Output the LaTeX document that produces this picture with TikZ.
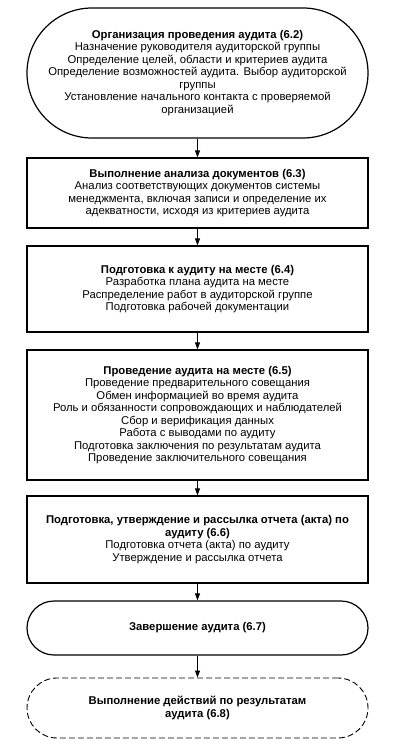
\documentclass[tikz,border=0pt]{standalone}
\usepackage{fontspec}
\setmainfont{Liberation Sans}
\usetikzlibrary{arrows.meta}
\begin{document}
\begin{tikzpicture}[x=1pt,y=1pt,
  every node/.style={font=\fontsize{11.3}{12.5}\selectfont, align=center, inner sep=0pt},
  box/.style={draw, line width=1.2pt, minimum width=341pt},
  flow/.style={line width=0.9pt, -{Triangle[length=7pt,width=5pt]}}]
\useasboundingbox (0,0) rectangle (401,-750);
\node[box, rounded corners=65pt, minimum height=130pt] (n1) at (197.5,-73)
 {\textbf{Организация проведения аудита (6.2)}\\
  Назначение руководителя аудиторской группы\\
  Определение целей, области и критериев аудита\\
  Определение возможностей аудита. Выбор аудиторской\\
  группы\\
  Установление начального контакта с проверяемой\\
  организацией};
\node[box, minimum height=70pt] (n2) at (197.5,-193)
 {\textbf{Выполнение анализа документов (6.3)}\\
  Анализ соответствующих документов системы\\
  менеджмента, включая записи и определение их\\
  адекватности, исходя из критериев аудита};
\node[box, minimum height=86pt] (n3) at (197.5,-289)
 {\textbf{Подготовка к аудиту на месте (6.4)}\\
  Разработка плана аудита на месте\\
  Распределение работ в аудиторской группе\\
  Подготовка рабочей документации};
\node[box, minimum height=130pt] (n4) at (197.5,-415)
 {\textbf{Проведение аудита на месте (6.5)}\\
  Проведение предварительного совещания\\
  Обмен информацией во время аудита\\
  Роль и обязанности сопровождающих и наблюдателей\\
  Сбор и верификация данных\\
  Работа с выводами по аудиту\\
  Подготовка заключения по результатам аудита\\
  Проведение заключительного совещания};
\node[box, minimum height=87pt] (n5) at (197.5,-539.5)
 {\textbf{Подготовка, утверждение и рассылка отчета (акта) по}\\
  \textbf{аудиту (6.6)}\\
  Подготовка отчета (акта) по аудиту\\
  Утверждение и рассылка отчета};
\node[box, rounded corners=27pt, minimum height=54pt] (n6) at (197.5,-628)
 {\textbf{Завершение аудита (6.7)}};
\node[box, line width=0.9pt, dash pattern=on 6pt off 3pt, rounded corners=30pt, minimum height=60pt] (n7) at (197.5,-708)
 {\textbf{Выполнение действий по результатам}\\
  \textbf{аудита (6.8)}};
\draw[flow] (n1) -- (n2);
\draw[flow] (n2) -- (n3);
\draw[flow] (n3) -- (n4);
\draw[flow] (n4) -- (n5);
\draw[flow] (n5) -- (n6);
\draw[flow] (n6) -- (n7);
\end{tikzpicture}
\end{document}
